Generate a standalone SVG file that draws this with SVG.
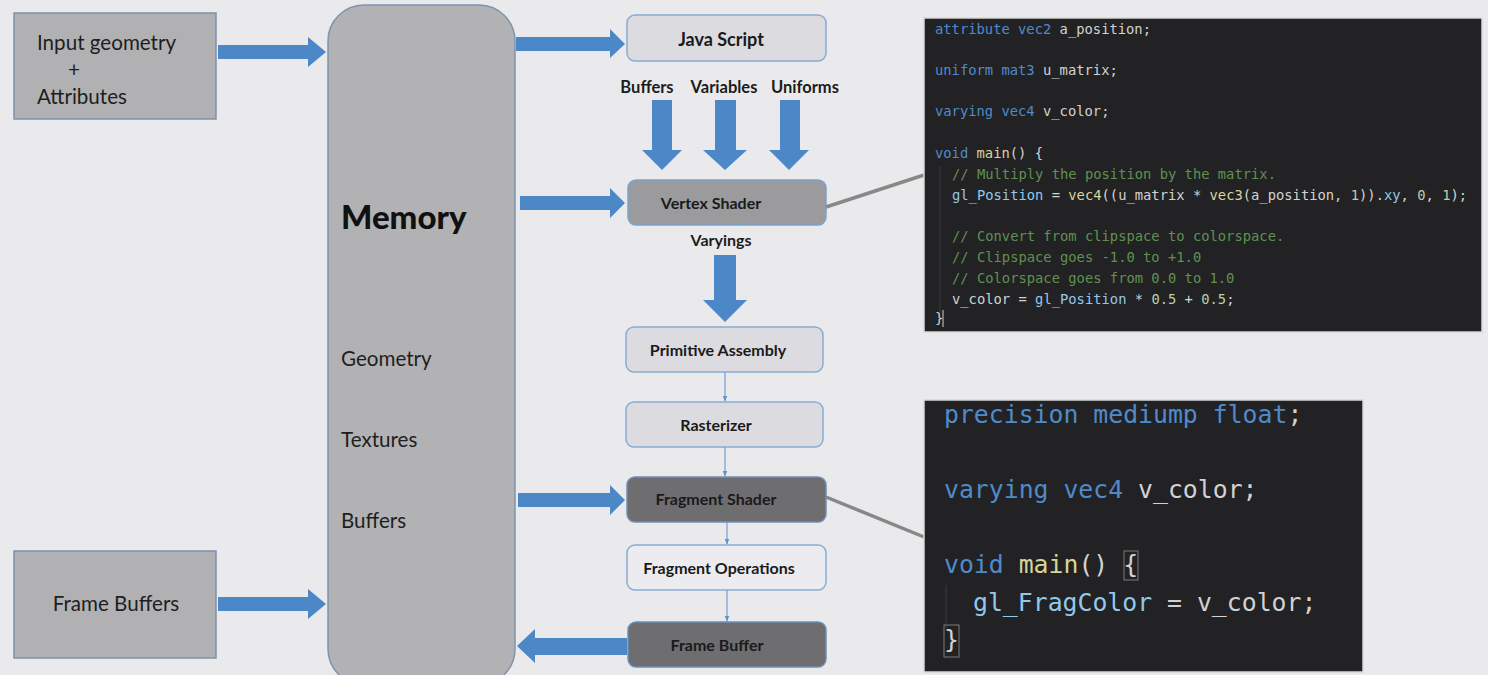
<svg xmlns="http://www.w3.org/2000/svg" width="1488" height="675" viewBox="0 0 1488 675">
<style>
.bg{fill:#eaeaec}
.gbox{fill:#b1b1b3;stroke:#7d93ad;stroke-width:1.5}
.mem{fill:#b2b2b4;stroke:#7d93ad;stroke-width:1.5}
.lbl{font-family:Lato,"Liberation Sans",sans-serif;font-size:20.6px;fill:#1e1e1e}
.mlbl{font-family:Lato,"Liberation Sans",sans-serif;font-size:33px;font-weight:900;fill:#111}
.nlight{fill:#dcdce0;stroke:#88acd4;stroke-width:1.5}
.nwhite{fill:#ececf0;stroke:#88acd4;stroke-width:1.5}
.nmid{fill:#9b9b9e;stroke:#7ea2cc;stroke-width:1.5}
.ndark{fill:#6e6e71;stroke:#6f8fb8;stroke-width:1.5}
.ntxt{font-family:Lato,"Liberation Sans",sans-serif;font-size:16px;font-weight:bold;fill:#1a1a1a;text-anchor:middle}
.blue{fill:#4c87c8}
.thin{stroke:#6e9fd6;stroke-width:1.2;fill:none}
.gline{stroke:#888;stroke-width:3.5;fill:none}
.panel{fill:#222224;stroke:#d8d8d8;stroke-width:1.5}
.code{font-family:"DejaVu Sans Mono","Liberation Mono",monospace;font-size:13.8px;fill:#d2d2d2;white-space:pre}
.code2{font-family:"DejaVu Sans Mono","Liberation Mono",monospace;font-size:24.8px;fill:#d2d2d2;white-space:pre}
.k{fill:#4f8bcb}
.f{fill:#d8d49c}
.c{fill:#5f9150}
.v{fill:#92c9ea}
.n{fill:#b8d0a4}
</style>
<defs>
<marker id="tri" viewBox="0 0 10 10" refX="9" refY="5" markerWidth="5" markerHeight="5" orient="auto">
<path d="M0,1 L10,5 L0,9 Z" fill="#5b93d0"/>
</marker>
</defs>
<rect class="bg" x="0" y="0" width="1488" height="675"/>

<g id="input-geometry">
<rect class="gbox" x="14" y="13" width="202" height="106"/>
<text class="lbl" x="37" y="50">Input geometry</text>
<text class="lbl" x="68" y="77">+</text>
<text class="lbl" x="37" y="104">Attributes</text>
</g>

<g id="frame-buffers">
<rect class="gbox" x="14" y="551" width="202" height="107"/>
<text class="lbl" x="116" y="611" text-anchor="middle">Frame Buffers</text>
</g>

<g id="memory">
<rect class="mem" x="328" y="5" width="187" height="680" rx="36"/>
<text class="mlbl" x="341" y="229">Memory</text>
<text class="lbl" x="341" y="366">Geometry</text>
<text class="lbl" x="341" y="447">Textures</text>
<text class="lbl" x="341" y="528">Buffers</text>
</g>

<g id="java-script">
<rect class="nlight" x="627" y="15" width="199" height="46" rx="8"/>
<text class="ntxt" x="721" y="46" style="font-size:18px">Java Script</text>
</g>

<g id="vertex-shader">
<rect class="nmid" x="628" y="180" width="198" height="45" rx="8"/>
<text class="ntxt" x="711" y="209">Vertex Shader</text>
</g>

<g id="primitive-assembly">
<rect class="nlight" x="626" y="327" width="197" height="45" rx="8"/>
<text class="ntxt" x="718" y="356">Primitive Assembly</text>
</g>

<g id="rasterizer">
<rect class="nlight" x="626" y="402" width="197" height="45" rx="8"/>
<text class="ntxt" x="716" y="431">Rasterizer</text>
</g>

<g id="fragment-shader">
<rect class="ndark" x="627" y="477" width="199" height="45" rx="8"/>
<text class="ntxt" x="716" y="505">Fragment Shader</text>
</g>

<g id="fragment-operations">
<rect class="nwhite" x="627" y="545" width="199" height="45" rx="8"/>
<text class="ntxt" x="719" y="574">Fragment Operations</text>
</g>

<g id="frame-buffer">
<rect class="ndark" x="628" y="622" width="198" height="45" rx="8"/>
<text class="ntxt" x="717" y="651">Frame Buffer</text>
</g>

<g id="connectors">
<path class="blue" d="M218,45 L308,45 L308,37 L326,52 L308,67 L308,59 L218,59 Z"/>
<path class="blue" d="M218,597 L308,597 L308,589 L326,604 L308,619 L308,611 L218,611 Z"/>
<path class="blue" d="M516,37 L610,37 L610,29 L625,44 L610,58 L610,51 L516,51 Z"/>
<path class="blue" d="M520,196 L610,196 L610,188 L625,203 L610,218 L610,210 L520,210 Z"/>
<path class="blue" d="M518,493 L610,493 L610,485 L625,500 L610,515 L610,507 L518,507 Z"/>
<path class="blue" d="M627,638 L535,638 L535,629 L517,646 L535,663 L535,655 L627,655 Z"/>
<path class="blue" d="M652,100 L672,100 L672,150 L682,150 L662,170 L642,150 L652,150 Z"/>
<path class="blue" d="M715,100 L736,100 L736,150 L747,150 L725,170 L703,150 L715,150 Z"/>
<path class="blue" d="M780,100 L800,100 L800,150 L809,150 L789,170 L769,150 L780,150 Z"/>
<path class="blue" d="M714,255 L736,255 L736,300 L747,300 L725,322 L703,300 L714,300 Z"/>
<line class="thin" x1="725" y1="372" x2="725" y2="401" marker-end="url(#tri)"/>
<line class="thin" x1="725" y1="447" x2="725" y2="476" marker-end="url(#tri)"/>
<line class="thin" x1="727" y1="522" x2="727" y2="544" marker-end="url(#tri)"/>
<line class="thin" x1="727" y1="590" x2="727" y2="621" marker-end="url(#tri)"/>
<line class="gline" x1="826" y1="207" x2="924" y2="175"/>
<line class="gline" x1="826" y1="497" x2="924" y2="537"/>
</g>

<g id="labels" font-family="Lato,'Liberation Sans',sans-serif" font-size="16.5" font-weight="bold" fill="#1c1c1c" text-anchor="middle">
<text x="647" y="93">Buffers</text>
<text x="724" y="93">Variables</text>
<text x="805" y="93">Uniforms</text>
<text x="721" y="246" font-size="16">Varyings</text>
</g>

<g id="vertex-code">
<rect class="panel" x="924" y="18" width="558" height="314"/>
<line x1="940" y1="166" x2="940" y2="312" stroke="#3a3a3c" stroke-width="1"/>
<text class="code" x="935" y="34"><tspan class="k">attribute vec2</tspan> a_position;</text>
<text class="code" x="935" y="75"><tspan class="k">uniform mat3</tspan> u_matrix;</text>
<text class="code" x="935" y="116"><tspan class="k">varying vec4</tspan> v_color;</text>
<text class="code" x="935" y="158"><tspan class="k">void</tspan> <tspan class="f">main</tspan>() {</text>
<text class="code c" x="952" y="179">// Multiply the position by the matrix.</text>
<text class="code" x="952" y="200"><tspan class="v">gl_Position</tspan> = <tspan class="f">vec4</tspan>((u_matrix * <tspan class="f">vec3</tspan>(a_position, <tspan class="n">1</tspan>)).<tspan class="v">xy</tspan>, <tspan class="n">0</tspan>, <tspan class="n">1</tspan>);</text>
<text class="code c" x="952" y="241">// Convert from clipspace to colorspace.</text>
<text class="code c" x="952" y="262">// Clipspace goes -1.0 to +1.0</text>
<text class="code c" x="952" y="283">// Colorspace goes from 0.0 to 1.0</text>
<text class="code" x="952" y="304">v_color = <tspan class="v">gl_Position</tspan> * <tspan class="n">0.5</tspan> + <tspan class="n">0.5</tspan>;</text>
<text class="code" x="935" y="323">}</text>
<line x1="943" y1="310" x2="943" y2="327" stroke="#d0d0d0" stroke-width="1"/>
</g>

<g id="fragment-code">
<rect class="panel" x="924" y="400" width="439" height="272"/>
<line x1="946" y1="585" x2="946" y2="628" stroke="#3a3a3c" stroke-width="1"/>
<text class="code2" x="944" y="423"><tspan class="k">precision mediump float</tspan>;</text>
<text class="code2" x="944" y="498"><tspan class="k">varying vec4</tspan> v_color;</text>
<text class="code2" x="944" y="573"><tspan class="k">void</tspan> <tspan class="f">main</tspan>() {</text>
<text class="code2" x="973" y="611"><tspan class="v">gl_FragColor</tspan> = v_color;</text>
<text class="code2" x="944" y="648">}</text>
<rect x="1124" y="551" width="14" height="29" fill="none" stroke="#7a7a7a" stroke-width="1"/>
<rect x="944" y="625" width="15" height="32" fill="none" stroke="#7a7a7a" stroke-width="1"/>
</g>
</svg>
